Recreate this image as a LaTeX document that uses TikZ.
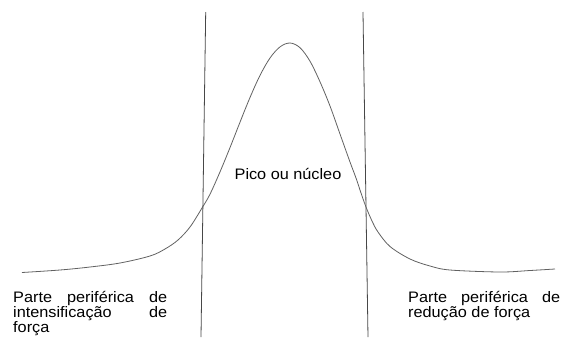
\documentclass[tikz,border=0pt]{standalone}
\usepackage{fontspec}
\setmainfont{Liberation Sans}[FakeStretch=1.07]
\begin{document}
\begin{tikzpicture}[x=1pt,y=-1pt,
  divline/.style={draw=black!72, line width=0.8pt},
  curveline/.style={draw=black!62, line width=0.8pt},
  lbl/.style={inner sep=0pt, font=\fontsize{15.2}{18}\selectfont, text=black}]
\useasboundingbox (0,0) rectangle (563,338);
% divider lines
\coordinate (lt) at (205.7,12);
\coordinate (lb) at (201,337);
\coordinate (rt) at (363,12);
\coordinate (rb) at (368,337);
\draw[divline] (lt) -- (lb);
\draw[divline] (rt) -- (rb);
% curve
\draw[curveline] plot[smooth, tension=0.55] coordinates {
 (22,272.5) (60,270) (90,267) (120,263) (150,256) (165,249) (178,240)
 (190,227) (202,208) (210,194.2) (220,171.9) (230,147.6) (240,122.2)
 (250,97.5) (260,75.4) (270,58) (280,46.9) (290,43) (300,47.7) (310,61.2)
 (320,81.8) (330,106) (340,134) (350,162) (356,178) (361,193) (366,207)
 (372,221) (378,232) (390,246.5) (410,259) (430,266) (450,270) (500,272)
 (530,270.5) (555,269)};
% labels
\node[lbl, anchor=base] (pico) at (288,179) {Pico ou núcleo};
\node[lbl, anchor=base west] (l1) at (13,302.7) {\hbox to 154pt{Parte\hfill periférica\hfill de}};
\node[lbl, anchor=base west] (l2) at (13,317.7) {\hbox to 154pt{intensificação\hfill de}};
\node[lbl, anchor=base west] (l3) at (13,332.7) {força};
\node[lbl, anchor=base west] (r1) at (408,302.7) {\hbox to 152pt{Parte\hfill periférica\hfill de}};
\node[lbl, anchor=base west] (r2) at (408,317.7) {redução de força};
\end{tikzpicture}
\end{document}
